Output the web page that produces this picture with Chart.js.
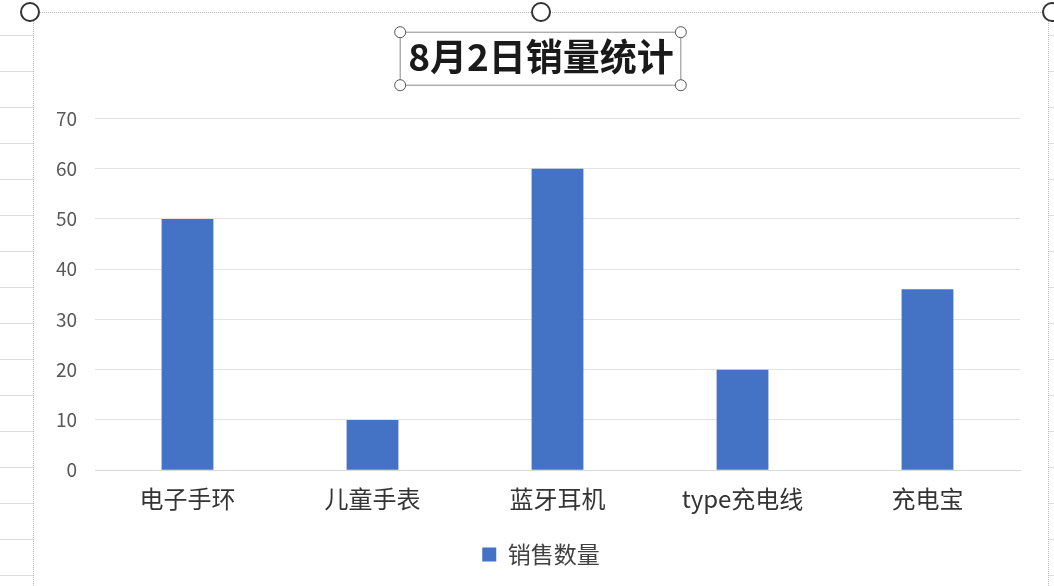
<!DOCTYPE html>
<html>
<head>
<meta charset="utf-8">
<script src="https://cdn.jsdelivr.net/npm/chart.js@4.4.1/dist/chart.umd.min.js"></script>
<style>
  html, body { margin: 0; padding: 0; }
  body {
    width: 1054px; height: 586px; overflow: hidden; position: relative;
    background-color: #fff;
    background-image:
      repeating-linear-gradient(to bottom, transparent 0, transparent 35px, #dcdcdc 35px, #dcdcdc 36px);
    font-family: "Noto Sans CJK SC", sans-serif;
  }
  #frame {
    position: absolute; left: 33px; top: 12px; width: 1016px; height: 590px;
    background: #fff; border: 1px dotted #b8b8b8; box-sizing: border-box;
  }
  #wrap { position: absolute; left: 0; top: 0; width: 1054px; height: 586px; }
  .handle {
    position: absolute; width: 20px; height: 20px; border-radius: 50%;
    border: 2px solid #333; background: #fff; box-sizing: border-box;
  }
</style>
</head>
<body>
<div id="frame"></div>
<div class="handle" style="left:20px;top:2px"></div>
<div class="handle" style="left:531px;top:2px"></div>
<div class="handle" style="left:1042px;top:2px"></div>
<div id="wrap"><canvas id="chart" width="1054" height="586"></canvas></div>
<script>
// values
const categories = ['电子手环', '儿童手表', '蓝牙耳机', 'type充电线', '充电宝'];
const salesCount = [50, 10, 60, 20, 36];
const seriesName = '销售数量';
const chartTitle = '8月2日销量统计';
const yTicks = [0, 10, 20, 30, 40, 50, 60, 70];

const fontFamily = '"Noto Sans CJK SC", "Noto Sans", sans-serif';
const titleSize = 37;

// draws the selected-title box with its little round handles
const titleBox = {
  id: 'titleBox',
  afterDraw(chart) {
    const t = chart.titleBlock;
    if (!t) return;
    const ctx = chart.ctx;
    ctx.save();
    ctx.font = 'bold ' + titleSize + 'px ' + fontFamily;
    const w = ctx.measureText(chartTitle).width;
    const cx = (t.left + t.right) / 2;
    const cy = t.top + titleSize * 1.2 / 2;
    const x0 = cx - w / 2 - 8, x1 = cx + w / 2 + 7;
    const y0 = cy - 25, y1 = cy + 28;
    ctx.strokeStyle = '#8a8a8a';
    ctx.lineWidth = 1;
    ctx.strokeRect(x0, y0, x1 - x0, y1 - y0);
    [[x0, y0], [x1, y0], [x0, y1], [x1, y1]].forEach(p => {
      ctx.beginPath();
      ctx.arc(p[0], p[1], 5.5, 0, Math.PI * 2);
      ctx.fillStyle = '#fff';
      ctx.fill();
      ctx.strokeStyle = '#555';
      ctx.stroke();
    });
    ctx.restore();
  }
};

new Chart(document.getElementById('chart'), {
  type: 'bar',
  data: {
    labels: categories,
    datasets: [{
      label: seriesName,
      data: salesCount,
      backgroundColor: '#4472C4',
      barPercentage: 0.28,
      categoryPercentage: 1
    }]
  },
  plugins: [titleBox],
  options: {
    responsive: false,
    animation: false,
    devicePixelRatio: 1,
    layout: { padding: { left: 40, right: 12, top: 35, bottom: 10 } },
    plugins: {
      title: {
        display: true,
        text: chartTitle,
        color: '#1a1a1a',
        font: { size: titleSize, weight: 'bold', family: fontFamily },
        padding: { top: 0, bottom: 39 }
      },
      legend: {
        position: 'bottom',
        labels: {
          color: '#404040',
          font: { size: 23, family: fontFamily },
          boxWidth: 14, boxHeight: 14,
          padding: 16
        }
      },
      tooltip: { enabled: false }
    },
    scales: {
      x: {
        grid: { display: false, drawTicks: false },
        border: { color: '#d9d9d9' },
        ticks: { color: '#333', font: { size: 24, family: fontFamily }, padding: 14 }
      },
      y: {
        min: 0, max: 70,
        afterFit(scale) { scale.width = 55; },
        afterBuildTicks(scale) { scale.ticks = yTicks.map(v => ({ value: v })); },
        grid: { color: '#e3e3e3', drawTicks: false },
        border: { display: false },
        ticks: { color: '#595959', font: { size: 19, family: fontFamily }, padding: 18 }
      },
      // empty right-hand strip, only keeps the plot area where Excel put it
      y2: {
        position: 'right',
        min: 0, max: 70,
        afterFit(scale) { scale.width = 22; },
        grid: { display: false, drawTicks: false },
        border: { display: false },
        ticks: { display: false }
      }
    }
  }
});
</script>
</body>
</html>
